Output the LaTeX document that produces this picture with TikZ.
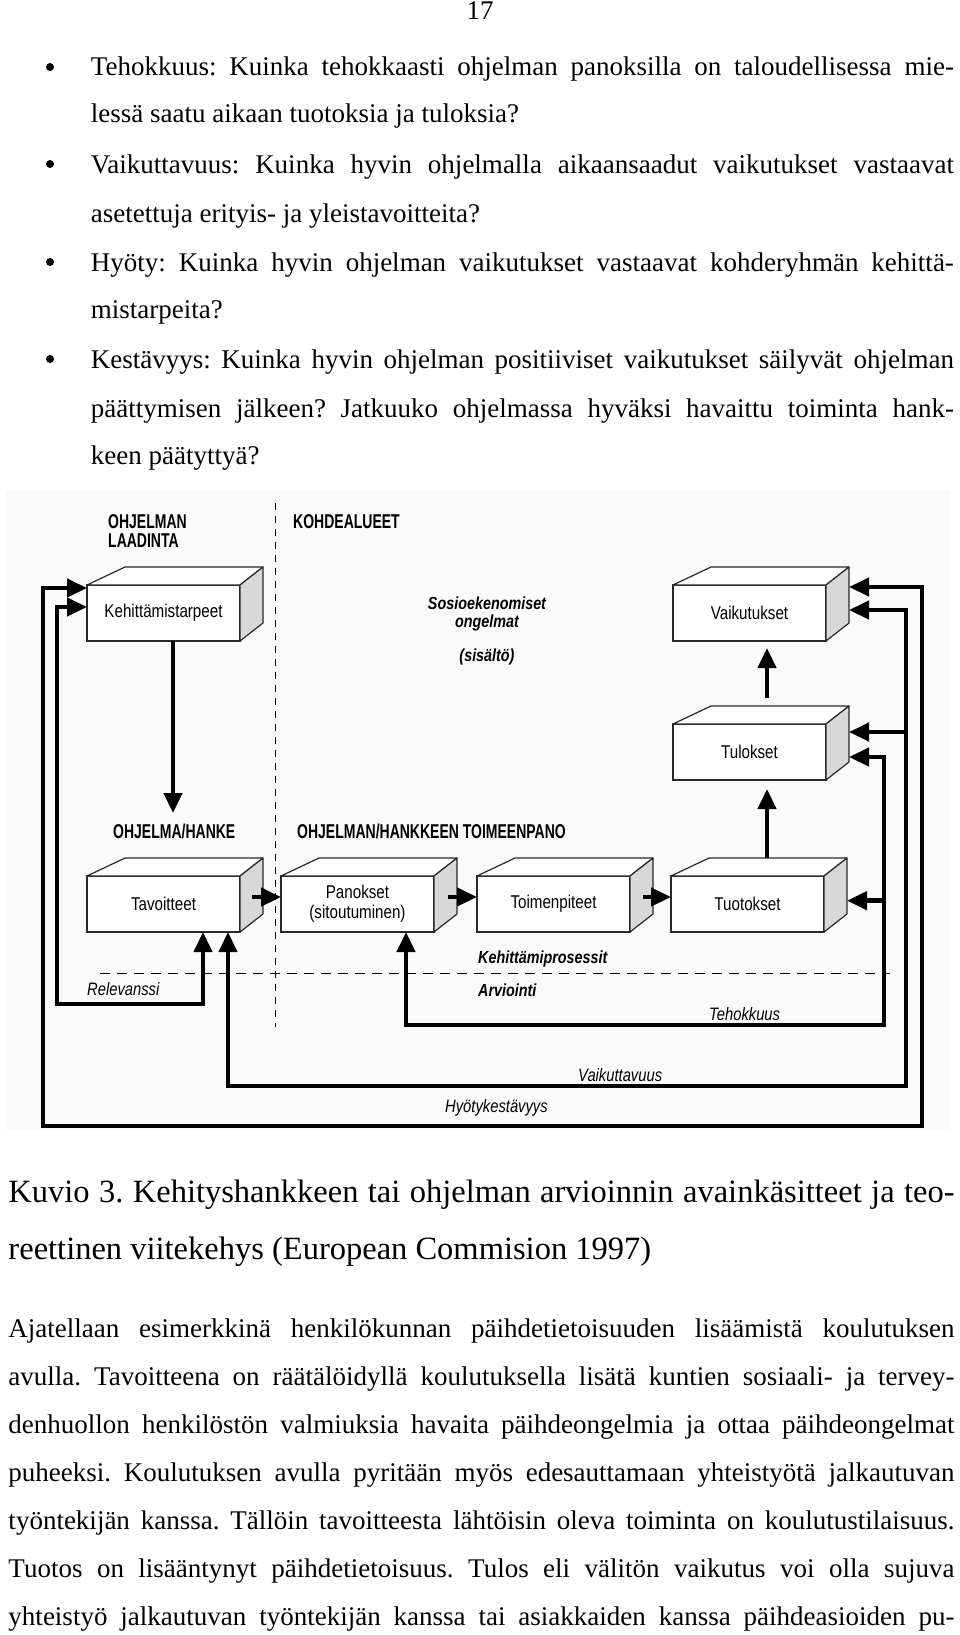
\documentclass[tikz,border=0pt]{standalone}
\usepackage{fontspec}
\setmainfont{Liberation Serif}
\newfontfamily\boxfont[FakeStretch=0.82]{Liberation Sans}
\newfontfamily\headfont[FakeStretch=0.7]{Liberation Sans}
\usetikzlibrary{arrows.meta,calc}
\definecolor{facegrey}{RGB}{216,216,216}
\definecolor{edgecol}{RGB}{40,40,40}
\definecolor{figbg}{RGB}{250,250,250}
\tikzset{
 txt/.style={inner sep=0pt, font=\frenchspacing\fontsize{27}{32}\selectfont, anchor=base west},
 captxt/.style={inner sep=0pt, font=\frenchspacing\fontsize{32.5}{38}\selectfont, anchor=base west},
 front/.style={draw=edgecol, line width=1.2pt, fill=white, minimum width=153pt, minimum height=56pt, inner sep=0pt, outer sep=0pt, align=center, font=\boxfont\fontsize{18.5}{20}\selectfont},
 sideface/.style={draw=edgecol, line width=1.2pt, fill=facegrey, line join=round},
 topface/.style={draw=edgecol, line width=1.2pt, fill=white, line join=round},
 head/.style={inner sep=0pt, anchor=base west, font=\headfont\bfseries\fontsize{20}{19}\selectfont},
 ital/.style={inner sep=0pt, anchor=base west, font=\boxfont\itshape\fontsize{18}{20}\selectfont},
 bital/.style={inner sep=0pt, anchor=base, font=\boxfont\bfseries\itshape\fontsize{17.5}{20}\selectfont},
 conn/.style={line width=4.5pt, draw=black},
 fe/.style={conn, -{Triangle[length=20pt 0 0,width=18pt 0 0]}},
 fb/.style={conn, {Triangle[length=20pt 0 0,width=18pt 0 0]}-{Triangle[length=20pt 0 0,width=18pt 0 0]}},
 sepline/.style={line width=1pt, dash pattern=on 7pt off 6pt},
 bul/.style={circle, fill=black, inner sep=0pt, minimum size=8pt},
}
\newcommand\cube[4]{%
 \node[front] (#1) at ({#2+76.5},{#3+28}) {#4};
 \draw[topface] (#1.north west) -- (#1.north east) -- ++(23,-18) -- ($(#1.north west)+(38,-18)$) -- cycle;
 \draw[sideface] (#1.north east) -- ++(23,-18) -- ++(0,56) -- (#1.south east) -- cycle;
}
\begin{document}
\begin{tikzpicture}[x=1pt,y=-1pt]
\useasboundingbox[fill=white] (0,0) rectangle (960,1635);
\fill[figbg] (5,490) rectangle (950,1130);

% page number and bullet list
\node[txt,anchor=base] (pg) at (480,20) {17};
\node[bul] (bu1) at (50,67) {};
\node[bul] (bu2) at (50,164) {};
\node[bul] (bu3) at (50,262) {};
\node[bul] (bu4) at (50,359) {};
\node[txt] (l1) at (90.7,76) {\makebox[863pt][s]{Tehokkuus: Kuinka tehokkaasti ohjelman panoksilla on taloudellisessa mie-}};
\node[txt] (l2) at (90.7,123) {lessä saatu aikaan tuotoksia ja tuloksia?};
\node[txt] (l3) at (90.7,173) {\makebox[863pt][s]{Vaikuttavuus: Kuinka hyvin ohjelmalla aikaansaadut vaikutukset vastaavat}};
\node[txt] (l4) at (90.7,222) {asetettuja erityis- ja yleistavoitteita?};
\node[txt] (l5) at (90.7,271) {\makebox[863pt][s]{Hyöty: Kuinka hyvin ohjelman vaikutukset vastaavat kohderyhmän kehittä-}};
\node[txt] (l6) at (90.7,318) {mistarpeita?};
\node[txt] (l7) at (90.7,368) {\makebox[863pt][s]{Kestävyys: Kuinka hyvin ohjelman positiiviset vaikutukset säilyvät ohjelman}};
\node[txt] (l8) at (90.7,417) {\makebox[863pt][s]{päättymisen jälkeen? Jatkuuko ohjelmassa hyväksi havaittu toiminta hank-}};
\node[txt] (l9) at (90.7,464) {keen päätyttyä?};

% headings
\node[head,align=left] (h1) at (108,547) {OHJELMAN\\LAADINTA};
\node[head] (h2) at (293,528) {KOHDEALUEET};
\node[head] (h3) at (113,838) {OHJELMA/HANKE};
\node[head] (h4) at (297,838) {OHJELMAN/HANKKEEN TOIMEENPANO};

% separators
\draw[sepline] (275,503) -- (275,1027);
\draw[sepline, dash pattern=on 10pt off 7pt] (100,973) -- (890,973);

% center labels
\node[bital] (s1) at (487,609) {Sosioekenomiset};
\node[bital] (s2) at (487,627) {ongelmat};
\node[bital] (s3) at (487,661) {(sisältö)};
\node[bital,anchor=base west] (kp) at (478,963) {Kehittämiprosessit};
\node[bital,anchor=base west] (ar) at (478,996) {Arviointi};
\node[ital] (rel) at (87,995) {Relevanssi};
\node[ital] (teh) at (709,1020) {Tehokkuus};
\node[ital] (vai) at (578,1081) {Vaikuttavuus};
\node[ital] (hyo) at (445,1112) {Hyötykestävyys};

% boxes
\cube{K}{87}{585}{Kehittämistarpeet}
\cube{V}{673}{585}{Vaikutukset}
\cube{Tu}{673}{724}{Tulokset}
\cube{T}{87}{876}{Tavoitteet}
\cube{P}{281}{876}{Panokset\\(sitoutuminen)}
\cube{To}{477}{876}{Toimenpiteet}
\cube{Tt}{671}{876}{Tuotokset}

% helper coordinates
\coordinate (ka) at (0,588);
\coordinate (kb) at (0,607);
\coordinate (o1) at (43,1126);
\coordinate (o2) at (922,1126);
\coordinate (Vr) at ($(V.north east)+(23,0)$);
\coordinate (va) at (0,587);
\coordinate (vb) at (0,610);
\coordinate (r1) at (57,1004);
\coordinate (rx) at (203,0);
\coordinate (vx) at (228,0);
\coordinate (v1) at (906,1086);
\coordinate (vj) at (906,732);
\coordinate (Tur) at ($(Tu.north east)+(23,0)$);
\coordinate (tx) at (406,0);
\coordinate (t1) at (884,1025);
\coordinate (tb) at (0,757);
\coordinate (tj) at (884,900.7);
\coordinate (Ttr) at ($(Tt.north east)+(23,0)$);
\coordinate (kt) at (173,813);
\coordinate (us) at (767,858);
\coordinate (ut) at (767,789);
\coordinate (ws) at (767,698);
\coordinate (wt) at (767,648);
\coordinate (hy) at (0,897);

% feedback loops
\draw[fb] (K.west |- ka) -| (o1) -- (o2) |- (Vr |- va);
\draw[fb] (K.west |- kb) -| (r1) -| (T.south -| rx);
\draw[fb] (T.south -| vx) |- (v1) |- (Vr |- vb);
\draw[fe] (vj) -- (Tur |- vj);
\draw[fb] (P.south -| tx) |- (t1) |- (Tur |- tb);
\draw[fe] (tj) -- (Ttr |- tj);

% flow arrows
\draw[fe] (K.south -| kt) -- (kt);
\draw[fe] (us) -- (ut);
\draw[fe] (ws) -- (wt);
\draw[fe] ($(T.east |- hy)+(12,0)$) -- (P.west |- hy);
\draw[fe] ($(P.east |- hy)+(14,0)$) -- (To.west |- hy);
\draw[fe] ($(To.east |- hy)+(13,0)$) -- (Tt.west |- hy);

% caption
\node[captxt] (c1) at (8.3,1202) {\makebox[946pt][s]{Kuvio 3. Kehityshankkeen tai ohjelman arvioinnin avainkäsitteet ja teo-}};
\node[captxt] (c2) at (8.3,1259) {reettinen viitekehys (European Commision 1997)};

% body text
\node[txt] (p1) at (8.3,1337) {\makebox[946pt][s]{Ajatellaan esimerkkinä henkilökunnan päihdetietoisuuden lisäämistä koulutuksen}};
\node[txt] (p2) at (8.3,1385) {\makebox[946pt][s]{avulla. Tavoitteena on räätälöidyllä koulutuksella lisätä kuntien sosiaali- ja tervey-}};
\node[txt] (p3) at (8.3,1433) {\makebox[946pt][s]{denhuollon henkilöstön valmiuksia havaita päihdeongelmia ja ottaa päihdeongelmat}};
\node[txt] (p4) at (8.3,1481) {\makebox[946pt][s]{puheeksi. Koulutuksen avulla pyritään myös edesauttamaan yhteistyötä jalkautuvan}};
\node[txt] (p5) at (8.3,1529) {\makebox[946pt][s]{työntekijän kanssa. Tällöin tavoitteesta lähtöisin oleva toiminta on koulutustilaisuus.}};
\node[txt] (p6) at (8.3,1577) {\makebox[946pt][s]{Tuotos on lisääntynyt päihdetietoisuus. Tulos eli välitön vaikutus voi olla sujuva}};
\node[txt] (p7) at (8.3,1625) {\makebox[946pt][s]{yhteistyö jalkautuvan työntekijän kanssa tai asiakkaiden kanssa päihdeasioiden pu-}};
\end{tikzpicture}
\end{document}
